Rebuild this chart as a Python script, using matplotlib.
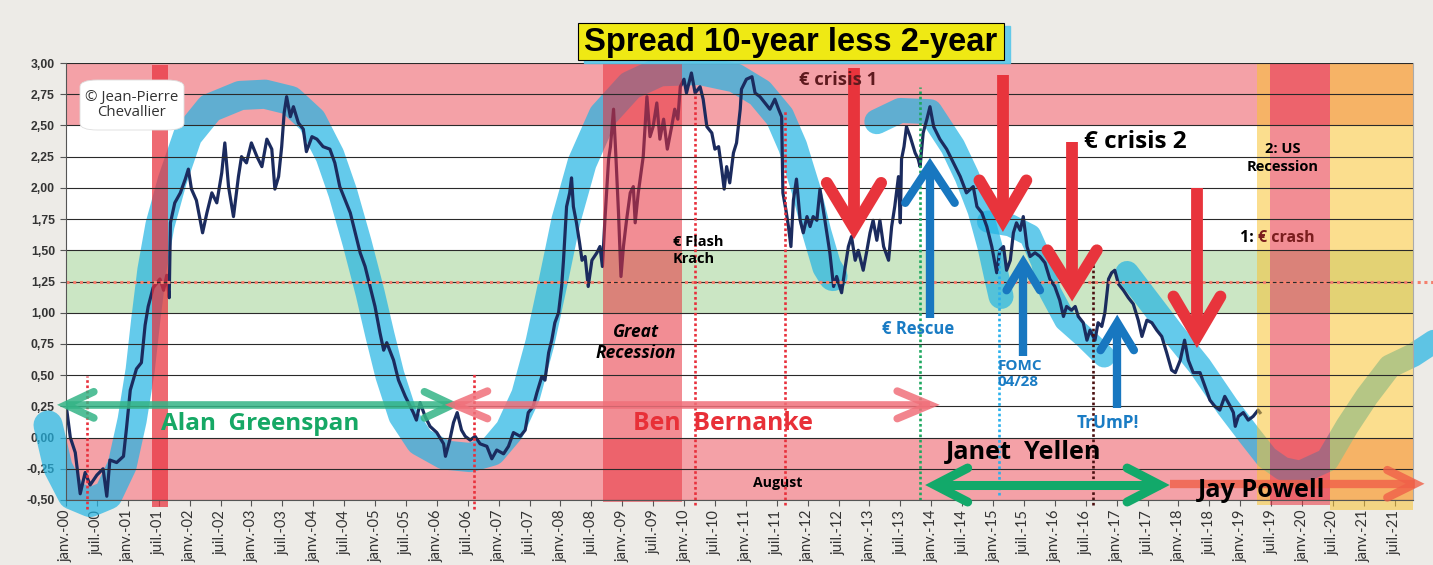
import numpy as np
import matplotlib.pyplot as plt
from matplotlib.patches import Rectangle, FancyBboxPatch

# --- Spread 10-year less 2-year ---
# time in years after Jan 2000, spread in %
t_off = [0.00, 0.07, 0.15, 0.23, 0.31, 0.39, 0.50, 0.60, 0.66, 0.71, 0.82, 0.93, 0.98,
         1.04, 1.14, 1.22, 1.28, 1.33, 1.41, 1.52, 1.58, 1.63, 1.67, 1.69, 1.76, 1.85,
         1.93, 1.98, 2.03, 2.11, 2.21, 2.28, 2.36, 2.44, 2.52, 2.57, 2.63, 2.71, 2.79,
         2.84, 2.92, 3.00, 3.09, 3.17, 3.25, 3.33, 3.38, 3.44, 3.49, 3.53, 3.57, 3.63,
         3.68, 3.76, 3.84, 3.89, 3.98, 4.06, 4.16, 4.27, 4.35, 4.43, 4.52, 4.60, 4.68,
         4.76, 4.84, 4.92, 5.00, 5.08, 5.14, 5.19, 5.30, 5.38, 5.49, 5.62, 5.67, 5.73,
         5.81, 5.89, 6.00, 6.11, 6.14, 6.21, 6.27, 6.33, 6.40, 6.46, 6.54, 6.62, 6.70,
         6.81, 6.89, 6.97, 7.08, 7.16, 7.24, 7.35, 7.43, 7.48, 7.56, 7.62, 7.70, 7.75,
         7.81, 7.86, 7.91, 7.97, 8.02, 8.05, 8.10, 8.15, 8.18, 8.21, 8.26, 8.31, 8.35,
         8.40, 8.45, 8.51, 8.59, 8.64, 8.68, 8.72, 8.78, 8.81, 8.86, 8.90, 8.94, 8.98,
         9.02, 9.07, 9.13, 9.18, 9.21, 9.26, 9.34, 9.40, 9.45, 9.50, 9.56, 9.61, 9.67,
         9.73, 9.80, 9.85, 9.90, 9.94, 10.00, 10.04, 10.12, 10.18, 10.26, 10.31, 10.37,
         10.45, 10.50, 10.56, 10.61, 10.65, 10.69, 10.74, 10.80, 10.85, 10.91, 10.93,
         11.01, 11.10, 11.15, 11.23, 11.31, 11.39, 11.47, 11.53, 11.58, 11.60, 11.65,
         11.69, 11.73, 11.77, 11.82, 11.88, 11.93, 11.99, 12.04, 12.09, 12.15, 12.20,
         12.28, 12.36, 12.42, 12.47, 12.55, 12.61, 12.66, 12.71, 12.77, 12.82, 12.90,
         12.96, 13.01, 13.06, 13.12, 13.17, 13.23, 13.31, 13.36, 13.41, 13.47, 13.50,
         13.52, 13.56, 13.60, 13.66, 13.74, 13.79, 13.82, 13.87, 13.93, 13.98, 14.04,
         14.14, 14.25, 14.36, 14.47, 14.57, 14.68, 14.74, 14.82, 14.90, 14.98, 15.06,
         15.11, 15.17, 15.22, 15.28, 15.33, 15.38, 15.44, 15.49, 15.55, 15.60, 15.68,
         15.76, 15.84, 15.92, 16.00, 16.08, 16.14, 16.19, 16.27, 16.33, 16.38, 16.46,
         16.52, 16.57, 16.65, 16.70, 16.76, 16.81, 16.87, 16.92, 16.97, 17.03, 17.11,
         17.19, 17.27, 17.35, 17.41, 17.49, 17.57, 17.65, 17.73, 17.81, 17.89, 17.95,
         18.03, 18.10, 18.16, 18.24, 18.35, 18.43, 18.51, 18.59, 18.67, 18.75, 18.84,
         18.89, 18.92, 18.97, 19.05, 19.13, 19.21, 19.29, 19.32]
spread = [0.27, 0.00, -0.12, -0.45, -0.28, -0.38, -0.30, -0.25, -0.47, -0.18, -0.20, -0.15, 0.08,
          0.38, 0.55, 0.60, 0.90, 1.05, 1.20, 1.27, 1.18, 1.30, 1.12, 1.72, 1.88, 1.96,
          2.07, 2.15, 1.99, 1.90, 1.64, 1.80, 1.96, 1.88, 2.12, 2.36, 2.01, 1.77, 2.09,
          2.25, 2.20, 2.36, 2.25, 2.17, 2.39, 2.31, 1.99, 2.09, 2.33, 2.60, 2.73, 2.57,
          2.65, 2.52, 2.47, 2.29, 2.41, 2.39, 2.33, 2.31, 2.20, 2.01, 1.90, 1.80, 1.64,
          1.48, 1.37, 1.21, 1.05, 0.84, 0.70, 0.76, 0.62, 0.46, 0.33, 0.20, 0.14, 0.28,
          0.17, 0.09, 0.04, -0.05, -0.15, -0.02, 0.12, 0.20, 0.06, 0.01, -0.02, 0.01, -0.05,
          -0.07, -0.17, -0.10, -0.13, -0.07, 0.04, 0.01, 0.06, 0.20, 0.25, 0.36, 0.49, 0.46,
          0.68, 0.78, 0.92, 1.00, 1.21, 1.42, 1.85, 1.96, 2.08, 1.85, 1.72, 1.56, 1.42,
          1.45, 1.21, 1.42, 1.48, 1.53, 1.37, 1.74, 2.23, 2.33, 2.63, 2.23, 1.80, 1.29,
          1.53, 1.74, 1.96, 2.01, 1.72, 1.96, 2.25, 2.73, 2.41, 2.49, 2.68, 2.39, 2.55,
          2.31, 2.49, 2.63, 2.55, 2.81, 2.87, 2.76, 2.92, 2.76, 2.81, 2.71, 2.49,
          2.44, 2.31, 2.33, 2.15, 1.99, 2.17, 2.04, 2.28, 2.36, 2.63, 2.79,
          2.87, 2.89, 2.76, 2.73, 2.68, 2.63, 2.71, 2.63, 2.57, 1.96, 1.82,
          1.69, 1.53, 1.90, 2.07, 1.74, 1.64, 1.77, 1.69, 1.77, 1.74, 1.99,
          1.74, 1.48, 1.21, 1.29, 1.16, 1.37, 1.53, 1.61, 1.42, 1.50, 1.34,
          1.50, 1.64, 1.74, 1.58, 1.74, 1.53, 1.42, 1.69, 1.85, 2.09, 1.72,
          2.23, 2.33, 2.49, 2.41, 2.28, 2.23, 2.17, 2.44, 2.55, 2.65, 2.49,
          2.39, 2.31, 2.20, 2.09, 1.96, 2.01, 1.85, 1.80, 1.69, 1.53, 1.32,
          1.50, 1.53, 1.34, 1.42, 1.64, 1.72, 1.66, 1.77, 1.53, 1.45, 1.48,
          1.45, 1.40, 1.27, 1.21, 1.10, 0.97, 1.05, 1.02, 1.05, 0.97, 0.92,
          0.78, 0.86, 0.78, 0.92, 0.89, 1.00, 1.27, 1.32, 1.34, 1.23, 1.18,
          1.12, 1.07, 0.94, 0.81, 0.94, 0.92, 0.86, 0.81, 0.68, 0.54, 0.52,
          0.62, 0.78, 0.62, 0.52, 0.52, 0.41, 0.30, 0.25, 0.22, 0.33, 0.25,
          0.20, 0.09, 0.17, 0.20, 0.14, 0.17, 0.22, 0.20]

# hand-drawn trend bands (years after 2000, %)
trend_a_t = [-0.29, -0.13, 0.10, 0.39, 0.68, 0.91, 1.07, 1.20, 1.29, 1.39, 1.52, 1.72, 1.97,
             2.33, 2.82, 3.22, 3.63, 3.98, 4.27, 4.48, 4.71, 4.92, 5.08, 5.24, 5.45, 5.73,
             6.13, 6.54, 6.89, 7.18, 7.44, 7.67, 7.88, 8.09, 8.35, 8.69, 9.13, 9.61, 10.26,
             10.83, 11.23, 11.55, 11.76, 11.99, 12.15, 12.31, 12.41]
trend_a_v = [0.10, -0.24, -0.46, -0.52, -0.46, -0.22, 0.14, 0.54, 0.94, 1.34, 1.70, 2.06, 2.42,
             2.64, 2.74, 2.75, 2.70, 2.54, 2.26, 1.96, 1.56, 1.16, 0.82, 0.50, 0.18, -0.03,
             -0.14, -0.16, -0.11, 0.06, 0.34, 0.76, 1.24, 1.74, 2.20, 2.58, 2.82, 2.93, 2.94,
             2.88, 2.76, 2.57, 2.33, 1.96, 1.64, 1.37, 1.29]
trend_b_t = [13.12, 13.50, 13.98, 14.35, 14.58, 14.79, 14.95, 15.07, 15.13]
trend_b_v = [2.53, 2.62, 2.61, 2.33, 2.09, 1.82, 1.53, 1.26, 1.13]
trend_c_t = [14.92, 15.28, 15.60, 15.79, 15.92, 16.17, 16.49, 16.80]
trend_c_v = [1.73, 1.70, 1.62, 1.41, 1.17, 0.94, 0.80, 0.65]
trend_d_t = [17.17, 17.54, 17.91, 18.35, 18.79, 19.16, 19.43, 19.69, 19.97, 20.41, 20.73,
             21.05, 21.42, 21.80, 22.23]
trend_d_v = [1.32, 1.08, 0.84, 0.57, 0.25, 0.01, -0.16, -0.25, -0.28, -0.18, 0.09,
             0.33, 0.57, 0.66, 0.80]

# shaded zones
h_zones = [(2.5, 3.0, '#E8303C', 0.45), (1.0, 1.5, '#78BE64', 0.38), (-0.5, 0.0, '#E8303C', 0.45)]
v_zones = [(1.39, 1.65, -0.56, 2.98, '#E8303C', 0.72),
           (8.69, 9.97, -0.52, 3.00, '#E8303C', 0.55),
           (19.27, 19.48, -0.54, 3.00, '#F8C332', 0.55),
           (19.48, 20.45, -0.54, 3.00, '#E8303C', 0.55),
           (20.45, 21.80, -0.58, 3.00, '#F8C332', 0.55)]

# dotted event markers: (t, low, high, colour)
events = [(0.34, -0.57, 0.49, '#E8303C'), (6.60, -0.57, 0.52, '#E8303C'),
          (10.18, -0.54, 2.76, '#E8303C'), (11.63, -0.54, 2.62, '#E8303C'),
          (13.82, -0.50, 2.81, '#1EA860'), (15.10, -0.46, 1.53, '#2AB0EC'),
          (16.62, -0.54, 1.40, '#4A1010')]

# down arrows (t, top, tip, half width, head height) and up arrows (t, bottom, tip, ...)
down_arrows = [(12.75, 2.96, 1.68, 0.44, 0.36), (15.16, 2.90, 1.74, 0.38, 0.32),
               (16.28, 2.37, 1.18, 0.40, 0.32), (18.30, 2.00, 0.81, 0.38, 0.32)]
up_arrows = [(13.98, 0.96, 2.18, 0.40, 0.30), (15.49, 0.65, 1.40, 0.27, 0.22),
             (17.01, 0.24, 0.92, 0.27, 0.22)]

yticks = np.arange(-0.5, 3.01, 0.25)
xticks = np.arange(0, 21.6, 0.5)
xlabels = [('janv.-%02d' if k % 2 == 0 else 'juil.-%02d') % (k // 2) for k in range(len(xticks))]

W, H = 1433, 565
fig = plt.figure(figsize=(W / 100, H / 100), dpi=100, facecolor='#EDEBE7')
ax = fig.add_axes([66 / W, 1 - 500 / H, 1347 / W, 437 / H])
ax.set_facecolor('white')
ax.set_xlim(0, 21.796)
ax.set_ylim(-0.5, 3.0)


def px(x, y):
    return x / W, 1 - y / H


for lo, hi, c, a in h_zones:
    ax.axhspan(lo, hi, color=c, alpha=a, lw=0, zorder=1)

for tt, vv, lw in [(trend_a_t, trend_a_v, 21), (trend_b_t, trend_b_v, 18),
                   (trend_c_t, trend_c_v, 16), (trend_d_t, trend_d_v, 17)]:
    ax.plot(tt, vv, color='#22B4E3', alpha=0.7, lw=lw, solid_capstyle='round',
            solid_joinstyle='round', zorder=2, clip_on=False)

ax.plot(t_off, spread, color='#1B2B5E', lw=2.3, zorder=3)

for x0, x1, y0, y1, c, a in v_zones:
    ax.add_patch(Rectangle((x0, y0), x1 - x0, y1 - y0, color=c, alpha=a, lw=0,
                           zorder=4, clip_on=False))

for v in yticks:
    ax.axhline(v, color='#2A2A2A', lw=0.8, zorder=5)

ax.plot([0, 22.12], [1.25, 1.25], color='#F4806E', lw=2.2, ls=(0, (1, 1.2)),
        zorder=6, clip_on=False)
for t, lo, hi, c in events:
    ax.plot([t, t], [lo, hi], color=c, lw=1.9, ls=(0, (1, 1)), zorder=6, clip_on=False)


def head(tip, w1, w2, color, lw, alpha=1.0):
    ax.plot([w1[0], tip[0], w2[0]], [w1[1], tip[1], w2[1]], color=color, lw=lw,
            alpha=alpha, solid_capstyle='round', solid_joinstyle='miter', zorder=7,
            clip_on=False)


for t, top, tip, dw, dh in down_arrows:
    ax.plot([t, t], [top, tip + 0.05], color='#E8343C', lw=8.5, solid_capstyle='butt', zorder=7)
    head((t, tip), (t - dw, tip + dh), (t + dw, tip + dh), '#E8343C', 8.5)
for t, bot, tip, dw, dh in up_arrows:
    ax.plot([t, t], [bot, tip - 0.05], color='#1877C0', lw=6, solid_capstyle='butt', zorder=7)
    head((t, tip), (t - dw, tip - dh), (t + dw, tip - dh), '#1877C0', 6)


def span_arrow(t0, t1, v, color, lw, dw, dh, alpha, left=True):
    ax.plot([t0, t1], [v, v], color=color, lw=lw, alpha=alpha, zorder=7,
            solid_capstyle='butt', clip_on=False)
    if left:
        head((t0, v), (t0 + dw, v + dh), (t0 + dw, v - dh), color, lw, alpha)
    head((t1, v), (t1 - dw, v + dh), (t1 - dw, v - dh), color, lw, alpha)


span_arrow(0.0, 6.25, 0.262, '#34B486', 5.5, 0.45, 0.105, 0.85)
span_arrow(6.29, 13.98, 0.262, '#F0707A', 5.5, 0.53, 0.11, 0.85)
span_arrow(14.06, 17.70, -0.38, '#12A96A', 6.5, 0.53, 0.136, 1.0)
span_arrow(17.86, 21.83, -0.37, '#F06048', 6, 0.45, 0.11, 0.8, left=False)

fb = dict(family='Open Sans', weight='bold', zorder=8)
ax.text(12.49, 2.86, '€ crisis 1', color='#5E1A1E', fontsize=13.2, ha='center', va='center', **fb)
ax.text(17.30, 2.37, '€ crisis 2', color='black', fontsize=17.5, ha='center', va='center', **fb)
ax.text(19.69, 2.24, '2: US\nRecession', color='black', fontsize=10.5, ha='center',
        va='center', linespacing=1.4, **fb)
ax.text(19.29, 1.60, '1: ', color='black', fontsize=11.5, ha='right', va='center', **fb)
ax.text(19.29, 1.60, '€ crash', color='#7A1E1E', fontsize=11.5, ha='left', va='center', **fb)
ax.text(9.82, 1.50, '€ Flash\nKrach', color='black', fontsize=10.5, ha='left', va='center',
        linespacing=1.3, **fb)
ax.text(9.22, 0.76, 'Great\nRecession', color='black', fontsize=12.5, style='italic',
        ha='center', va='center', linespacing=1.2, **fb)
ax.text(11.52, -0.36, 'August', color='black', fontsize=10.2, ha='center', va='center', **fb)
ax.text(13.79, 0.87, '€ Rescue', color='#1A7CC4', fontsize=12, ha='center', va='center', **fb)
ax.text(15.08, 0.51, 'FOMC\n04/28', color='#1A7CC4', fontsize=11, ha='left', va='center',
        linespacing=1.25, **fb)
ax.text(16.86, 0.12, 'TrUmP!', color='#1A7CC4', fontsize=12.3, ha='center', va='center', **fb)
ax.text(3.14, 0.11, 'Alan  Greenspan', color='#16A865', fontsize=17.5, ha='center', va='center', **fb)
ax.text(10.63, 0.11, 'Ben  Bernanke', color='#E83038', fontsize=17.8, ha='center', va='center', **fb)
ax.text(15.50, -0.12, 'Janet  Yellen', color='black', fontsize=18.2, ha='center', va='center', **fb)
ax.text(19.34, -0.42, 'Jay Powell', color='black', fontsize=18.2, ha='center', va='center', **fb)

# title box with cyan shadow
x0, y0 = px(584, 63)
fig.add_artist(Rectangle((x0, y0), 426 / W, 37 / H, transform=fig.transFigure,
                         color='#5BC8EA', alpha=0.9, zorder=9))
x0, y0 = px(578, 60)
fig.add_artist(Rectangle((x0, y0), 426 / W, 37 / H, transform=fig.transFigure,
                         facecolor='#EFE914', edgecolor='black', lw=0.8, zorder=10))
fig.text(*px(791, 42), 'Spread 10-year less 2-year', fontsize=23.6, weight='bold',
         family='Liberation Sans', ha='center', va='center', zorder=11)

# copyright badge
x0, y0 = px(80, 130)
fig.add_artist(FancyBboxPatch((x0, y0), 104 / W, 50 / H, boxstyle='round,pad=0,rounding_size=0.012',
                              transform=fig.transFigure, facecolor='white', edgecolor='#DDDDDD',
                              lw=0.6, zorder=10))
fig.text(*px(132, 105), '© Jean-Pierre\nChevallier', fontsize=10.8, family='Open Sans',
         color='#333333', ha='center', va='center', linespacing=1.0, zorder=11)

ax.set_yticks(yticks)
ax.set_yticklabels([('%.2f' % v).replace('.', ',') for v in yticks],
                   fontsize=8.8, fontweight='bold', color='#333333', family='Liberation Sans')
ax.set_xticks(xticks)
ax.set_xticklabels(xlabels, rotation=90, fontsize=10.5, color='#333333', family='Lato')
ax.tick_params(axis='x', length=4, width=0.8, color='#555555', pad=3)
ax.tick_params(axis='y', length=4, width=0.8, color='#555555', pad=4)
ax.spines['top'].set_visible(False)
ax.spines['left'].set_color('#555555')
ax.spines['bottom'].set_color('#555555')
ax.spines['right'].set_color('#AAAAAA')
for s in ax.spines.values():
    s.set_zorder(6)

fig.savefig('out.png', dpi=100, facecolor=fig.get_facecolor())
